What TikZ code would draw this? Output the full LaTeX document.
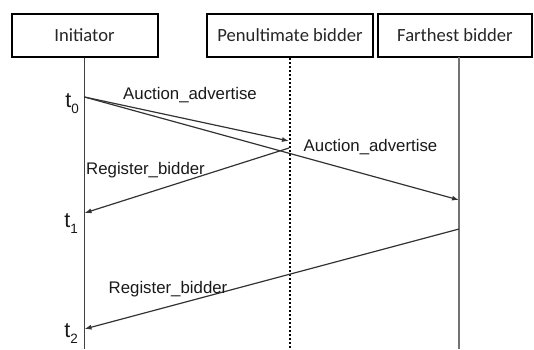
\documentclass[tikz,border=0pt]{standalone}
\usepackage{fontspec}
\setmainfont{Liberation Sans}
\newfontfamily\boxfont{Carlito}
\usetikzlibrary{arrows.meta}

\begin{document}
\begin{tikzpicture}[x=1pt,y=-1pt,
  actor/.style={draw=black, line width=2pt, minimum height=43pt, inner sep=0pt,
    font=\boxfont\fontsize{18.6}{20}\selectfont, text=black!85},
  life/.style={draw=black!75, line width=1.2pt},
  msg/.style={draw=black!80, line width=1.2pt, -{Latex[length=7pt,width=5pt]}},
  lbl/.style={font=\fontsize{16.8}{19}\selectfont, text=black!90, inner sep=0pt},
  tick/.style={font=\fontsize{21.5}{24}\selectfont, text=black!90, inner sep=0pt, anchor=base east},
  sub/.style={}
]
\useasboundingbox (0,0) rectangle (534,349);

% participants
\node[actor, minimum width=146pt] (ini) at (84.5,35.5) {Initiator};
\node[actor, minimum width=166pt] (pen) at (290,35.5) {Penultimate bidder};
\node[actor, minimum width=154pt] (far) at (455,35.5) {Farthest bidder};

% lifelines
\coordinate (iniEnd) at (84.5,349);
\coordinate (penEnd) at (290,349);
\coordinate (farTop) at (459,57);
\coordinate (farEnd) at (459,349);
\draw[life] (ini.south) -- (iniEnd);
\draw[line width=2.2pt, dash pattern=on 2pt off 2pt] (pen.south) -- (penEnd);
\draw[life, draw=black!55, line width=1.6pt] (farTop) -- (farEnd);

% message points on the lifelines
\coordinate (a0) at (84.5,97);
\coordinate (p1) at (289,141);
\coordinate (p2) at (289,148);
\coordinate (f1) at (459,200);
\coordinate (i1) at (84.5,213);
\coordinate (f2) at (459,229);
\coordinate (i2) at (84.5,329);

% messages
\draw[msg] (a0) -- (p1);
\draw[msg] (a0) -- (f1);
\draw[msg] (p2) -- (i1);
\draw[msg] (f2) -- (i2);

% message labels
\node[lbl] (m1) at (190,95) {Auction\_advertise};
\node[lbl] (m2) at (370.5,147) {Auction\_advertise};
\node[lbl] (m3) at (145.5,170) {Register\_bidder};
\node[lbl] (m4) at (168,289) {Register\_bidder};

% time marks
\newcommand\tsub[1]{\raisebox{-6pt}{\fontsize{13.5}{14}\selectfont #1}}
\node[tick] (t0) at (79,107) {t\tsub{0}};
\node[tick] (t1) at (78,227) {t\tsub{1}};
\node[tick] (t2) at (78,337) {t\tsub{2}};
\end{tikzpicture}
\end{document}
